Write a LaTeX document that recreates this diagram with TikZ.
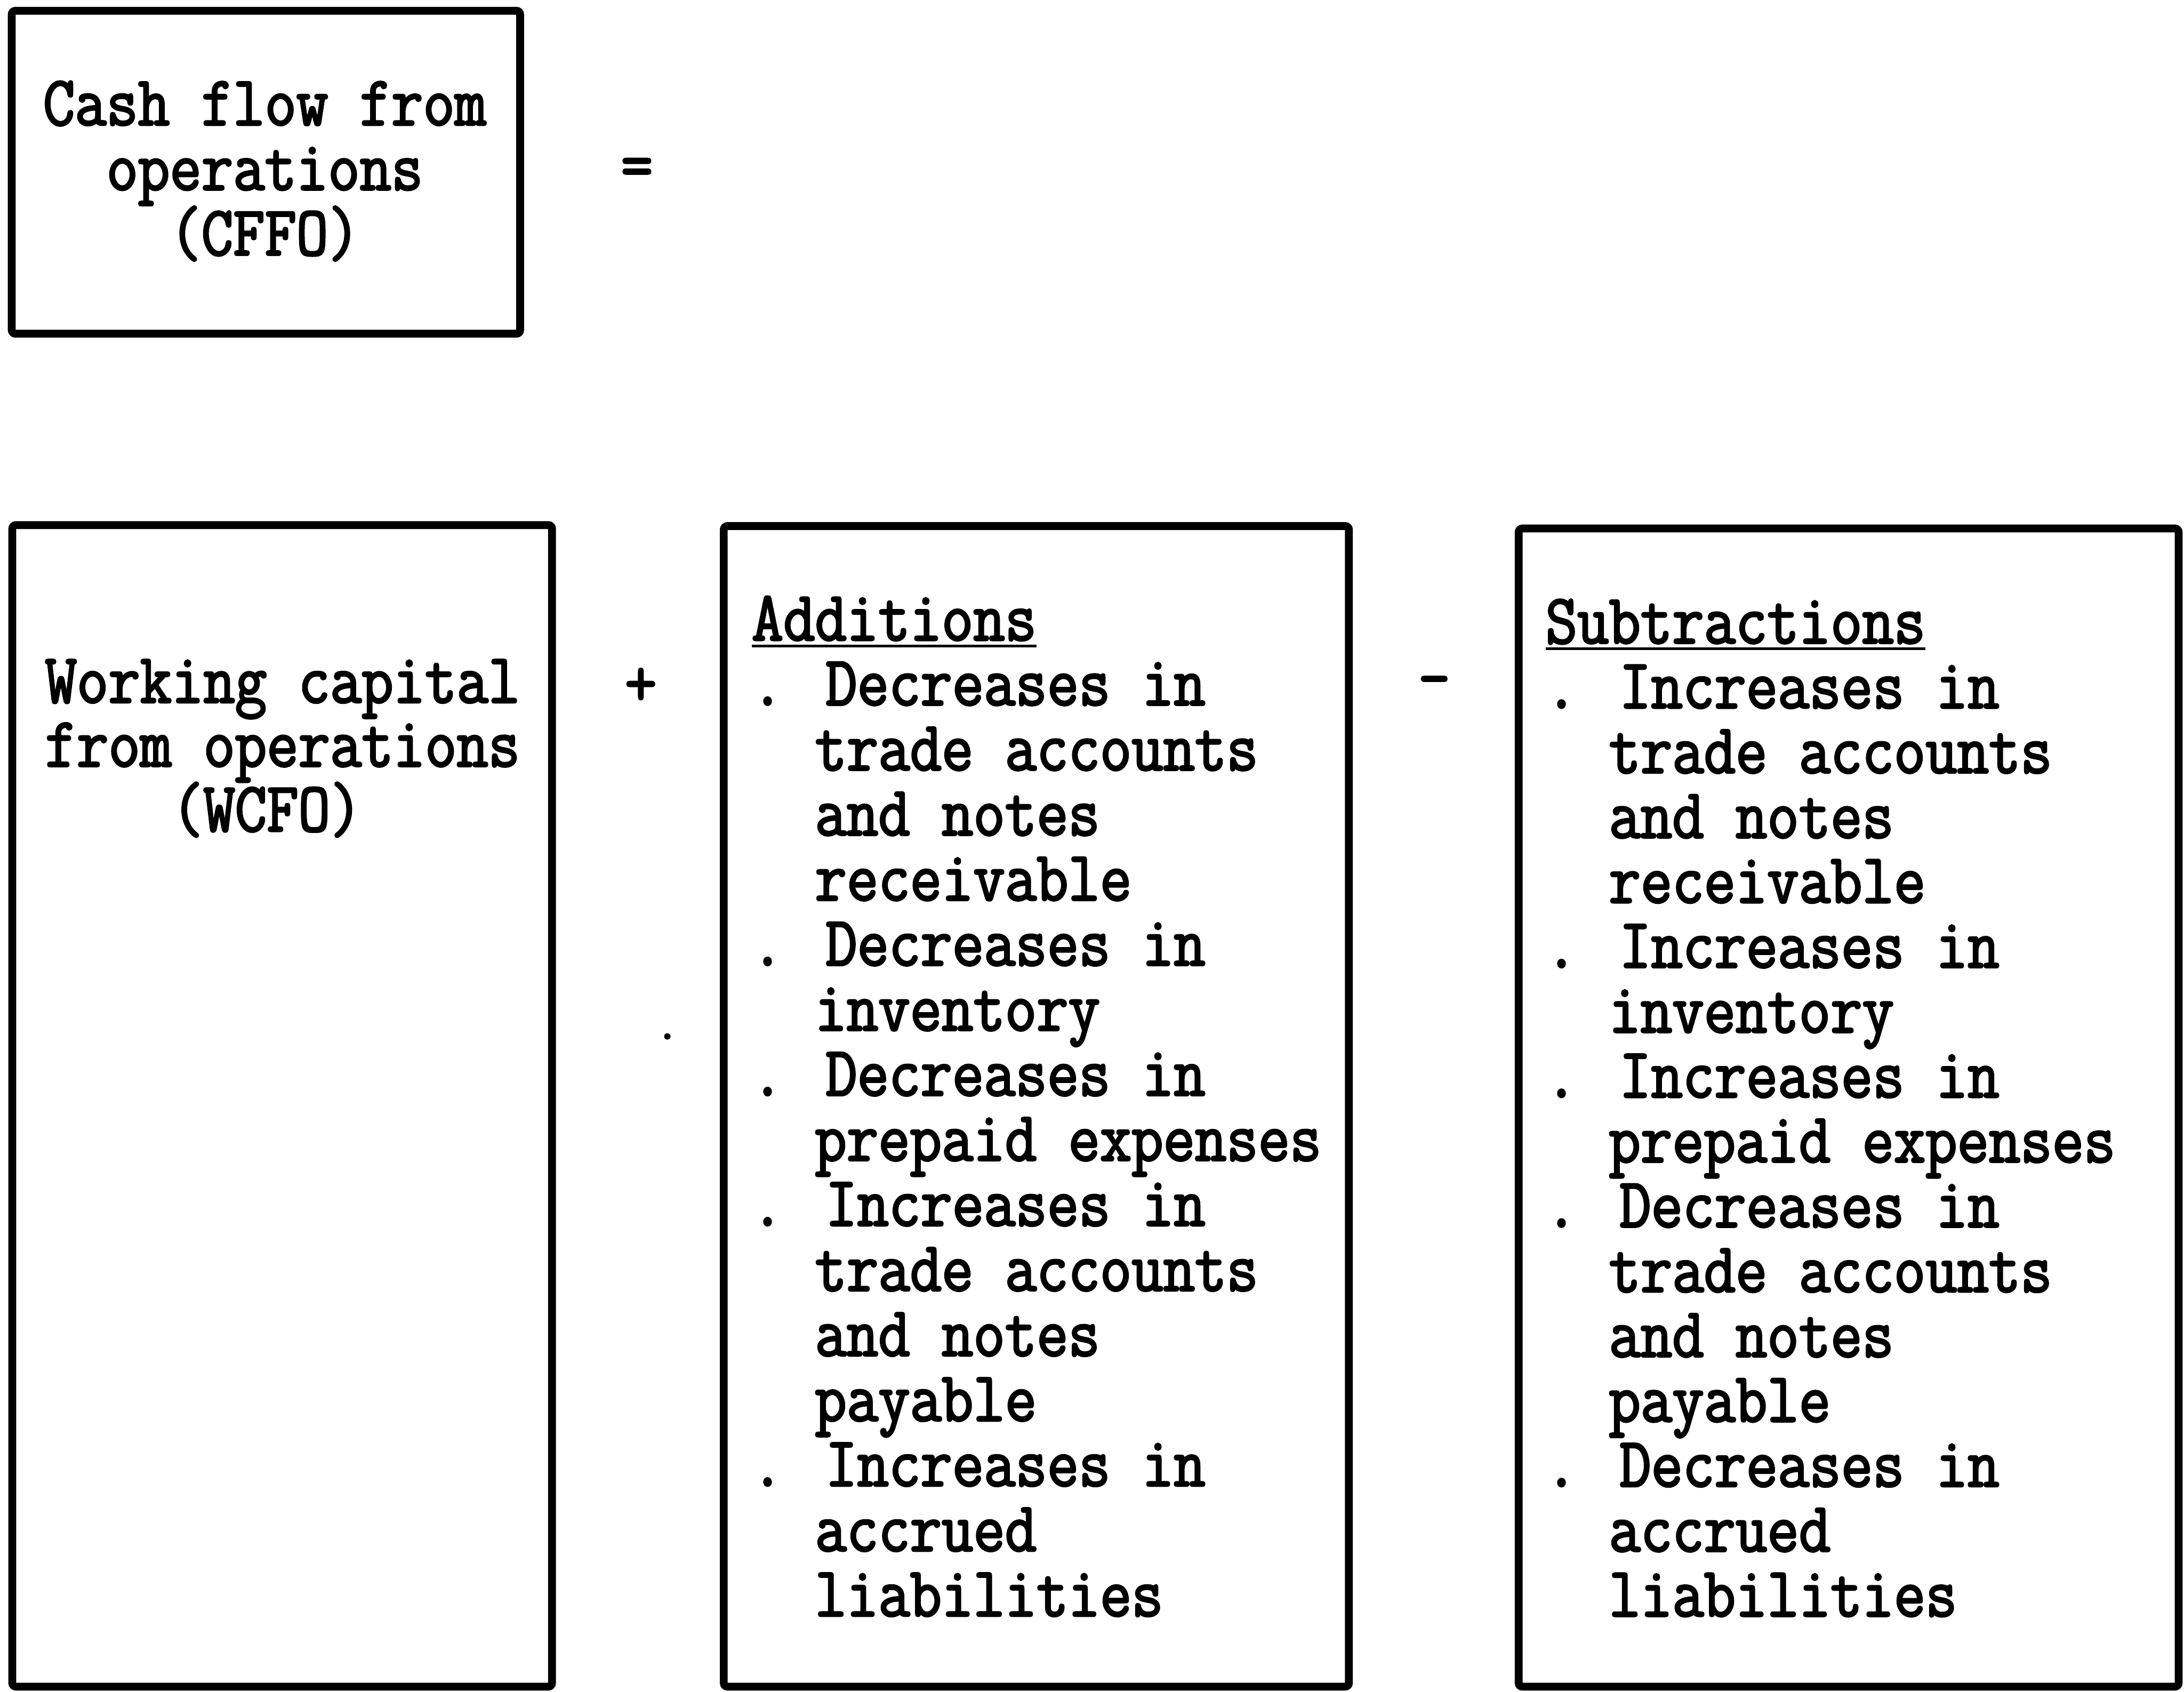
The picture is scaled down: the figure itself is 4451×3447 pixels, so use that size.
\documentclass[tikz,border=0pt]{standalone}
\usepackage{fontspec}
\newfontfamily\tw[FakeStretch=0.87,FakeBold=2.5]{Latin Modern Mono}
\begin{document}
\begin{tikzpicture}[x=0.2pt,y=-0.2pt,
  tw/.style={font=\tw\fontsize{28.8}{28.8}\selectfont, inner sep=0pt, outer sep=0pt},
  line/.style={tw, anchor=base west},
  sym/.style={tw, anchor=center},
  frame/.style={line width=3.2pt, rounded corners=1.5pt},
  uline/.style={line width=1.1pt}]
\useasboundingbox (0,0) rectangle (4451,3447);

% frames
\draw[frame] (24,22) rectangle (1060,680);
\draw[frame] (25,1070) rectangle (1125,3437);
\draw[frame] (1475,1072) rectangle (2749,3437);
\draw[frame] (3095,1077) rectangle (4440,3437);

% top box
\node[line] (c0) at (88,255) {Cash flow from};
\node[line] (c1) at (88,387) {\phantom{..}operations};
\node[line] (c2) at (88,520) {\phantom{....}(CFFO)};
\node[sym] (eq) at (1298,353) {=};

% working capital box
\node[line] (w0) at (92,1432) {Working capital};
\node[line] (w1) at (92,1562) {from operations};
\node[line] (w2) at (92,1694) {\phantom{....}(WCFO)};
\node[sym] (plus) at (1306,1400) {+};
\node[sym] (minus) at (2923,1403) {-};

% additions
\node[line] (ha) at (1532,1305) {Additions};
\draw[uline] ([yshift=-2.2pt]ha.base west) -- ([yshift=-2.2pt]ha.base east);
\foreach \t [count=\i from 0] in {%
  . Decreases in, \phantom{..}trade accounts, \phantom{..}and notes, \phantom{..}receivable,
  . Decreases in, \phantom{..}inventory,
  . Decreases in, \phantom{..}prepaid expenses,
  . Increases in, \phantom{..}trade accounts, \phantom{..}and notes, \phantom{..}payable,
  . Increases in, \phantom{..}accrued, \phantom{..}liabilities}
  \node[line] (a\i) at (1532,1437+\i*132.6) {\t};

% subtractions
\node[line] (hs) at (3150,1311) {Subtractions};
\draw[uline] ([yshift=-2.2pt]hs.base west) -- ([yshift=-2.2pt]hs.base east);
\foreach \t [count=\i from 0] in {%
  . Increases in, \phantom{..}trade accounts, \phantom{..}and notes, \phantom{..}receivable,
  . Increases in, \phantom{..}inventory,
  . Increases in, \phantom{..}prepaid expenses,
  . Decreases in, \phantom{..}trade accounts, \phantom{..}and notes, \phantom{..}payable,
  . Decreases in, \phantom{..}accrued, \phantom{..}liabilities}
  \node[line] (s\i) at (3150,1443+\i*132.2) {\t};

% stray typewriter dot
\fill (1360,2112) circle (1.3pt);
\end{tikzpicture}
\end{document}
